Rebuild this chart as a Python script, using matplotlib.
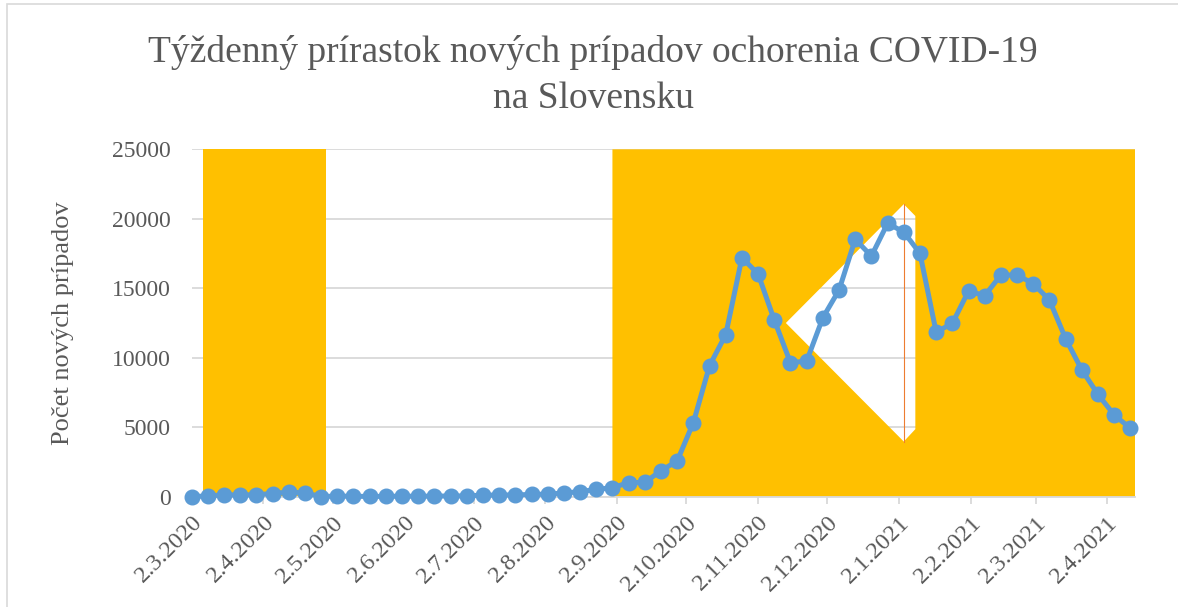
import pandas as pd
import numpy as np
import matplotlib
matplotlib.use('Agg')
import matplotlib.pyplot as plt
import matplotlib.dates as mdates
from matplotlib.path import Path
from matplotlib.patches import PathPatch, Rectangle

# tyzdenne data (pondelok kazdeho tyzdna od 2.3.2020)
week_start = '2020-03-02'
new_cases = [5, 55, 130, 125, 140, 230, 330, 270, 10, 45,
             30, 20, 25, 40, 30, 45, 50, 60, 110, 120,
             130, 160, 190, 260, 370, 520, 650, 1010, 1030, 1870,
             2570, 5330, 9430, 11660, 17200, 16030, 12710, 9640, 9760, 12880,
             14870, 18520, 17320, 19670, 19050, 17510, 11850, 12470, 14800, 14470,
             15950, 15950, 15330, 14150, 11370, 9120, 7360, 5880, 4920]
weeks = pd.date_range(week_start, periods=len(new_cases), freq='7D')

# oranzove obdobia (opatrenia)
band_start = ['2020-03-07', '2020-08-31']
band_end = ['2020-04-29', '2021-04-14']
band_top = 25000

# biela "diera" v druhom obdobi
hole_dates = ['2020-11-14', '2021-01-04', '2021-01-09', '2021-01-09', '2021-01-04']
hole_vals = [12500, 21050, 20200, 4860, 3970]
vline_date = '2021-01-04'
vline_range = [3970, 21050]

tick_labels = ['2.3.2020', '2.4.2020', '2.5.2020', '2.6.2020', '2.7.2020', '2.8.2020',
               '2.9.2020', '2.10.2020', '2.11.2020', '2.12.2020', '2.1.2021',
               '2.2.2021', '2.3.2021', '2.4.2021']
x_min, x_max = '2020-03-02', '2021-04-14'

grey = '#595959'
plt.rcParams['font.family'] = ['Liberation Serif', 'DejaVu Serif']

fig = plt.figure(figsize=(11.78, 6.07), dpi=100)
ax = fig.add_axes([191.6 / 1178, 1 - 496.7 / 607, (1135 - 191.6) / 1178, (496.7 - 149.3) / 607])

ax.set_axisbelow(True)
ax.yaxis.grid(True, color='#D9D9D9', linewidth=1.3, zorder=0)

# prve obdobie - obdlznik
s0, e0 = mdates.date2num(pd.to_datetime(band_start[0])), mdates.date2num(pd.to_datetime(band_end[0]))
ax.fill_between([s0, e0], 0, band_top, color='#FFC000', linewidth=0, zorder=1)

# druhe obdobie - obdlznik s dierou
s1, e1 = mdates.date2num(pd.to_datetime(band_start[1])), mdates.date2num(pd.to_datetime(band_end[1]))
outer = [(s1, 0), (e1, 0), (e1, band_top), (s1, band_top), (s1, 0)]
hx = mdates.date2num(pd.to_datetime(hole_dates))
inner = list(zip(hx, hole_vals)) + [(hx[0], hole_vals[0])]
verts = outer + inner
codes = ([Path.MOVETO] + [Path.LINETO] * 3 + [Path.CLOSEPOLY]
         + [Path.MOVETO] + [Path.LINETO] * (len(inner) - 2) + [Path.CLOSEPOLY])
ax.add_patch(PathPatch(Path(verts, codes), facecolor='#FFC000', edgecolor='none', zorder=1))

vx = mdates.date2num(pd.to_datetime(vline_date))
ax.plot([vx, vx], vline_range, color='#ED7D31', linewidth=0.8, zorder=2)

ax.plot(weeks, new_cases, color='#5B9BD5', linewidth=3.6, marker='o', markersize=10.5,
        zorder=3, clip_on=False)

ax.set_xlim(pd.to_datetime(x_min), pd.to_datetime(x_max))
ax.set_ylim(0, 25000)
ax.set_yticks(range(0, 25001, 5000))
ax.set_yticklabels([str(v) for v in range(0, 25001, 5000)])

tick_dates = pd.to_datetime(tick_labels, format='%d.%m.%Y')
ax.set_xticks(tick_dates)
ax.set_xticklabels(tick_labels, rotation=45, ha='right', va='top', rotation_mode='anchor')

for sp in ['top', 'right', 'left']:
    ax.spines[sp].set_visible(False)
ax.spines['bottom'].set_color('#D9D9D9')
ax.spines['bottom'].set_linewidth(1.3)
ax.spines['bottom'].set_zorder(2)
ax.tick_params(axis='x', colors='#D9D9D9', length=5, width=1.3, labelcolor=grey,
               labelsize=17.5, pad=6)
ax.tick_params(axis='y', length=0, labelcolor=grey, labelsize=17, pad=15)

fig.text(0.5035, 1 - 53 / 607, 'Týždenný prírastok nových prípadov ochorenia COVID-19',
         ha='center', va='center', fontsize=27, color=grey)
fig.text(0.5035, 1 - 99 / 607, 'na Slovensku', ha='center', va='center', fontsize=27, color=grey)
fig.text(63 / 1178, 1 - 323 / 607, 'Počet nových prípadov', rotation=90,
         ha='center', va='center', fontsize=19, color=grey)

fig.patches.append(Rectangle((7 / 1178, -0.1), 1.2, 1 - 3.5 / 607 + 0.1, transform=fig.transFigure,
                             facecolor='none', edgecolor='#D9D9D9', linewidth=1.2, zorder=0))

fig.savefig('out.png', dpi=100)
